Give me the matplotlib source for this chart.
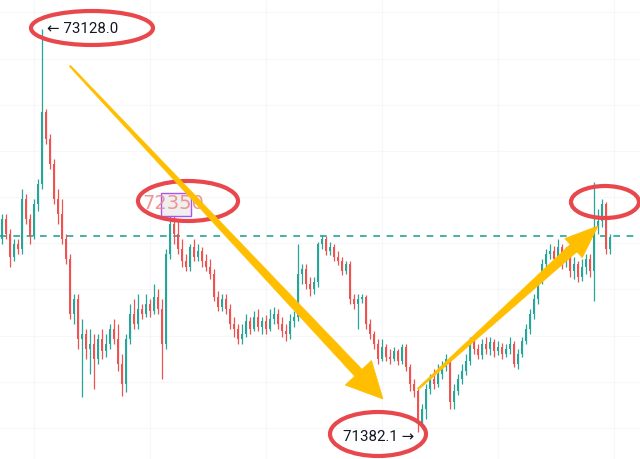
import matplotlib
matplotlib.use('Agg')
import matplotlib.pyplot as plt
from matplotlib.patches import Ellipse, Rectangle, Polygon
import numpy as np

# OHLC (one entry per candle, left to right)
first_open = 72218
closes = [72305, 72240, 72140, 72197, 72175, 72392, 72305, 72231, 72370, 72457,
          72768, 72652, 72543, 72392, 72327, 72218, 72132, 71893, 71958, 71785,
          71807, 71742, 71763, 71698, 71785, 71733, 71763, 71828, 71785, 71677,
          71590, 71785, 71893, 71850, 71915, 71893, 71937, 71906, 71967, 71915,
          71763, 72153, 72283, 72240, 72175, 72123, 72097, 72184, 72140, 72166,
          72123, 72097, 72067, 71967, 71924, 71958, 71915, 71850, 71828, 71785,
          71807, 71863, 71828, 71880, 71837, 71863, 71828, 71872, 71893, 71850,
          71820, 71807, 71863, 71880, 72067, 72088, 72023, 72002, 72032, 72197,
          72218, 72166, 72184, 72140, 72123, 72080, 72110, 71958, 71937, 71958,
          71967, 71850, 71807, 71763, 71698, 71750, 71707, 71698, 71733, 71690,
          71750, 71664, 71590, 71560, 71417, 71482, 71569, 71612, 71590, 71633,
          71664, 71698, 71512, 71560, 71612, 71646, 71690, 71776, 71742, 71716,
          71763, 71742, 71772, 71733, 71750, 71720, 71742, 71763, 71677, 71720,
          71776, 71828, 71893, 71958, 72045, 72110, 72153, 72166, 72132, 72184,
          72123, 72153, 72080, 72110, 72054, 72097, 72132, 72080, 72270, 72296,
          72370, 72175, 72227]
highs = [72327, 72327, 72262, 72218, 72218, 72435, 72413, 72327, 72392, 72478,
         73128, 72782, 72673, 72565, 72435, 72392, 72240, 72153, 71980, 71980,
         71872, 71828, 71828, 71807, 71807, 71828, 71807, 71850, 71872, 71850,
         71720, 71807, 71937, 71958, 71980, 71937, 71980, 71958, 72023, 72002,
         71958, 72175, 72327, 72340, 72305, 72218, 72153, 72197, 72218, 72197,
         72184, 72153, 72132, 72088, 71993, 71980, 71980, 71937, 71880, 71850,
         71850, 71893, 71880, 71906, 71915, 71880, 71889, 71915, 71924, 71915,
         71880, 71850, 71893, 71906, 72197, 72110, 72110, 72054, 72054, 72205,
         72236, 72231, 72205, 72197, 72166, 72140, 72123, 72123, 71980, 71980,
         71980, 71976, 71872, 71820, 71785, 71785, 71763, 71742, 71750, 71742,
         71763, 71763, 71677, 71612, 71577, 71504, 71590, 71633, 71655, 71677,
         71690, 71720, 71707, 71590, 71633, 71677, 71720, 71794, 71794, 71763,
         71785, 71794, 71794, 71785, 71776, 71768, 71763, 71794, 71776, 71742,
         71794, 71850, 71915, 71980, 72067, 72132, 72175, 72197, 72188, 72218,
         72197, 72184, 72175, 72140, 72123, 72132, 72153, 72153, 72465, 72348,
         72392, 72379, 72240]
lows = [72197, 72218, 72097, 72123, 72153, 72153, 72283, 72197, 72218, 72340,
        72435, 72630, 72522, 72370, 72283, 72197, 72110, 71872, 71850, 71742,
        71534, 71698, 71633, 71569, 71677, 71698, 71707, 71742, 71763, 71646,
        71538, 71556, 71763, 71828, 71828, 71872, 71880, 71880, 71893, 71893,
        71612, 71742, 72132, 72197, 72153, 72097, 72080, 72080, 72123, 72123,
        72097, 72080, 72045, 71950, 71906, 71906, 71893, 71828, 71794, 71763,
        71763, 71794, 71807, 71820, 71820, 71807, 71807, 71820, 71850, 71828,
        71794, 71776, 71785, 71837, 71863, 72023, 72002, 71971, 71980, 72010,
        72175, 72149, 72149, 72123, 72106, 72062, 72067, 71937, 71915, 71828,
        71941, 71828, 71785, 71742, 71677, 71690, 71690, 71677, 71690, 71672,
        71677, 71646, 71560, 71534, 71382.1, 71395, 71439, 71547, 71569, 71577,
        71612, 71646, 71482, 71482, 71543, 71590, 71629, 71672, 71720, 71698,
        71698, 71720, 71716, 71707, 71716, 71698, 71707, 71720, 71664, 71655,
        71707, 71763, 71807, 71872, 71937, 72023, 72088, 72132, 72110, 72123,
        72088, 72097, 72054, 72045, 72032, 72036, 72067, 72054, 71950, 72240,
        72270, 72153, 72153]
opens = [first_open] + closes[:-1]

ref_level = 72231
label_high = '← 73128.0'
label_low = '71382.1 →'
label_mid = '72350'

up_col = '#26a69a'
down_col = '#ef5350'
ring_col = '#e8474c'
arrow_col = '#ffbf00'

W, H = 640, 460
fig = plt.figure(figsize=(W / 100, H / 100), dpi=100)
ax = fig.add_axes([0, 0, 1, 1])
ax.set_xlim(-0.5, 159.5)
ax.set_ylim(71265, 73258)
ax.axis('off')


def px(x, y):
    # pixel position (from top-left) -> axes fraction
    return x / W, 1 - y / H


# faint grid
for p in range(71400, 73300, 200):
    ax.axhline(p, color='#f6f7f9', lw=0.8, zorder=0)
for gx in [8, 37, 66, 95, 124, 153]:
    ax.axvline(gx, color='#f6f7f9', lw=0.8, zorder=0)

# candles
idx = np.arange(len(closes))
o = np.array(opens, dtype=float)
c = np.array(closes, dtype=float)
cols = [up_col if cc >= oo else down_col for oo, cc in zip(o, c)]
ax.vlines(idx, lows, highs, colors=cols, lw=0.9, zorder=2)
body = np.maximum(np.abs(c - o), 3)
ax.bar(idx, body, bottom=np.minimum(o, c), width=0.6, color=cols, lw=0, zorder=3)

# dashed level
ax.axhline(ref_level, color=up_col, lw=1.2, ls=(0, (4, 4)), zorder=1)

# marked box behind middle label
bx, by = px(161, 217)
ax.add_patch(Rectangle((bx, by), 30 / W, 23 / H, transform=ax.transAxes,
                       facecolor='#efefef', edgecolor='#a855f7', lw=1, zorder=4))

# labels
ax.text(*px(47, 29), label_high, transform=ax.transAxes, ha='left', va='center',
        fontsize=10.8, family=['Roboto', 'DejaVu Sans'], color='#131722', zorder=6)
ax.text(*px(343, 437), label_low, transform=ax.transAxes, ha='left', va='center',
        fontsize=10.8, family=['Roboto', 'DejaVu Sans'], color='#131722', zorder=6)
ax.text(*px(142, 204), label_mid, transform=ax.transAxes, ha='left', va='center',
        fontsize=14, color='#f08a8a', alpha=0.9, zorder=5)

# red rings
for (cx, cy, ew, eh) in [(92, 29, 122, 34), (188, 202, 100, 40),
                         (378, 435, 96, 44), (605, 203, 68, 32)]:
    ax.add_patch(Ellipse(px(cx, cy), ew / W, eh / H, transform=ax.transAxes,
                         fill=False, edgecolor=ring_col, lw=3, zorder=7))


def taper_arrow(x0, y0, x1, y1, w0, w1, head_len, head_w):
    d = np.array([x1 - x0, y1 - y0], dtype=float)
    u = d / np.hypot(*d)
    n = np.array([-u[1], u[0]])
    s = np.array([x0, y0], dtype=float)
    tip = np.array([x1, y1], dtype=float)
    b = tip - head_len * u
    pts = [s + n * w0, b + n * w1, b + n * head_w, tip,
           b - n * head_w, b - n * w1, s - n * w0]
    pts = [px(p[0], p[1]) for p in pts]
    ax.add_patch(Polygon(pts, closed=True, transform=ax.transAxes,
                         facecolor=arrow_col, edgecolor=arrow_col, lw=0.5, zorder=8))


taper_arrow(70, 67, 383, 400, 0.8, 5.0, 36, 18)
taper_arrow(418, 390, 598, 227, 0.8, 5.0, 33, 13)

fig.savefig('out.png', dpi=100)
